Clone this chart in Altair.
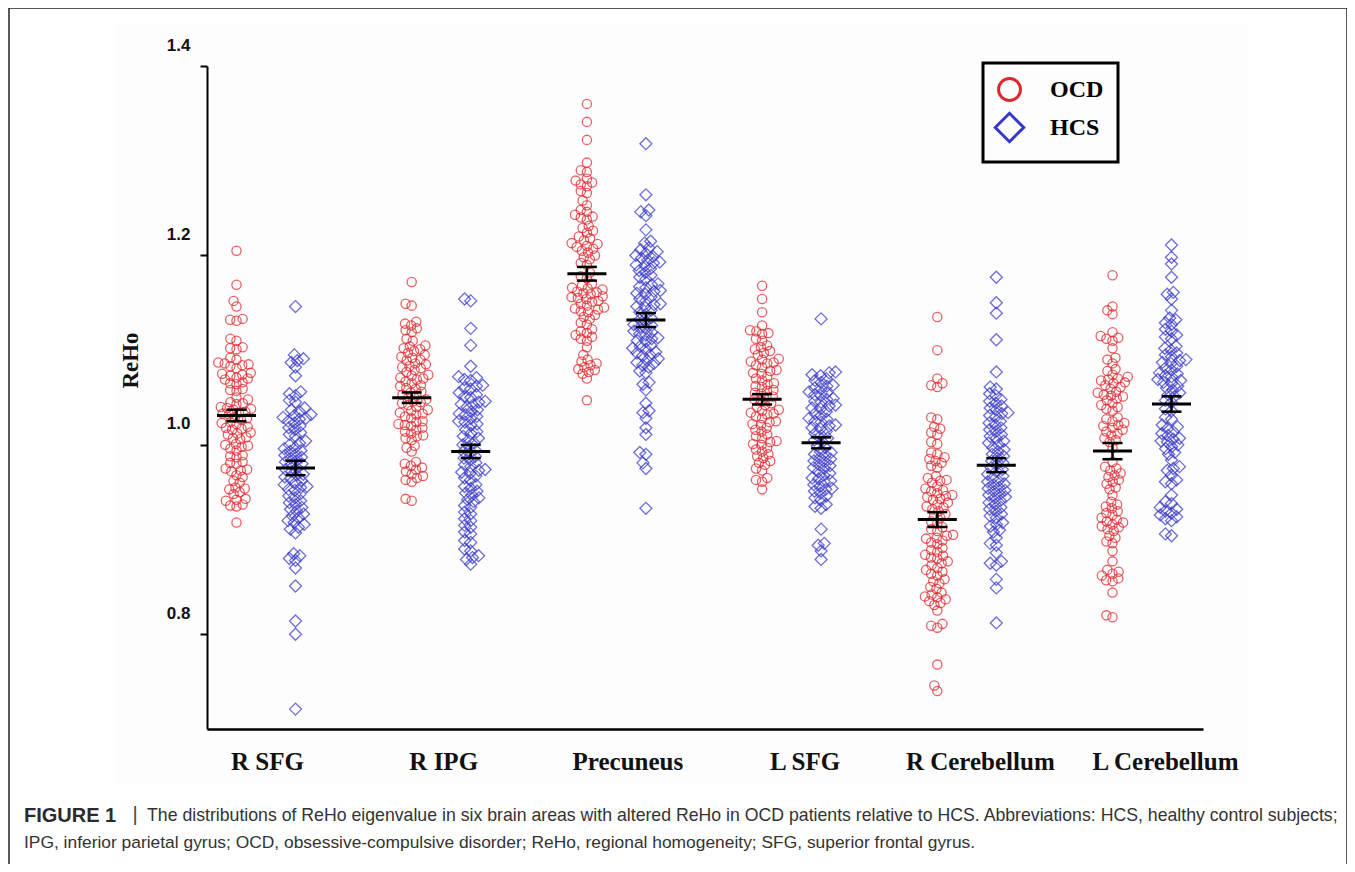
import json
import altair as alt
import pandas as pd

# ---------------- data ----------------
REGIONS = ["R SFG", "R IPG", "Precuneus", "L SFG", "R Cerebellum", "L Cerebellum"]
GROUPS = ["OCD", "HCS"]
Y_TICKS = [0.8, 1.0, 1.2, 1.4]

RSFG_OCD = [1.205, 1.169, 1.152, 1.146, 1.133, 1.131, 1.132, 1.112, 1.110, 1.103, 1.101, 1.102, 1.092, 1.090,
            1.087, 1.085, 1.086, 1.084, 1.083, 1.081, 1.076, 1.074, 1.075, 1.073, 1.071, 1.069, 1.070, 1.066,
            1.064, 1.065, 1.059, 1.057, 1.058, 1.050, 1.048, 1.045, 1.043, 1.044, 1.040, 1.038, 1.039, 1.037,
            1.035, 1.033, 1.034, 1.032, 1.029, 1.027, 1.028, 1.024, 1.022, 1.023, 1.019, 1.017, 1.018, 1.016,
            1.013, 1.011, 1.012, 1.008, 1.006, 1.007, 1.001, 0.999, 1.000, 0.998, 0.996, 0.994, 0.989, 0.987,
            0.988, 0.982, 0.980, 0.981, 0.975, 0.973, 0.974, 0.972, 0.968, 0.966, 0.962, 0.960, 0.955, 0.953,
            0.954, 0.950, 0.948, 0.943, 0.941, 0.942, 0.937, 0.935, 0.936, 0.918]
RSFG_HCS = [1.146, 1.095, 1.091, 1.089, 1.087, 1.082, 1.073, 1.056, 1.054, 1.052, 1.047, 1.045, 1.039, 1.037,
            1.035, 1.032, 1.031, 1.029, 1.028, 1.027, 1.025, 1.023, 1.020, 1.018, 1.016, 1.013, 1.011, 1.009,
            1.004, 1.002, 1.000, 0.997, 0.996, 0.994, 0.993, 0.990, 0.989, 0.987, 0.986, 0.983, 0.982, 0.980,
            0.979, 0.976, 0.974, 0.972, 0.969, 0.968, 0.966, 0.965, 0.962, 0.960, 0.958, 0.956, 0.955, 0.953,
            0.952, 0.948, 0.946, 0.944, 0.941, 0.939, 0.937, 0.934, 0.932, 0.930, 0.927, 0.925, 0.923, 0.920,
            0.918, 0.916, 0.913, 0.911, 0.907, 0.885, 0.883, 0.880, 0.878, 0.870, 0.851, 0.814, 0.800, 0.721]
RIPG_OCD = [1.172, 1.149, 1.147, 1.130, 1.128, 1.126, 1.123, 1.121, 1.119, 1.112, 1.110, 1.105, 1.104, 1.102,
            1.101, 1.099, 1.097, 1.095, 1.093, 1.092, 1.090, 1.089, 1.086, 1.085, 1.083, 1.082, 1.081, 1.079,
            1.077, 1.074, 1.073, 1.071, 1.070, 1.069, 1.067, 1.065, 1.063, 1.062, 1.060, 1.059, 1.056, 1.055,
            1.053, 1.052, 1.049, 1.048, 1.046, 1.045, 1.044, 1.042, 1.040, 1.037, 1.036, 1.034, 1.033, 1.032,
            1.030, 1.028, 1.025, 1.024, 1.022, 1.021, 1.020, 1.018, 1.016, 1.014, 1.012, 1.010, 1.009, 1.007,
            1.005, 0.999, 0.997, 0.993, 0.982, 0.980, 0.978, 0.976, 0.974, 0.972, 0.969, 0.967, 0.965, 0.963,
            0.961, 0.943, 0.941]
RIPG_HCS = [1.154, 1.152, 1.123, 1.105, 1.083, 1.072, 1.071, 1.069, 1.068, 1.063, 1.062, 1.060, 1.059, 1.055,
            1.053, 1.051, 1.050, 1.046, 1.045, 1.043, 1.042, 1.040, 1.037, 1.035, 1.033, 1.032, 1.030, 1.028,
            1.025, 1.024, 1.022, 1.021, 1.016, 1.014, 1.012, 1.009, 1.007, 1.005, 1.002, 1.000, 0.998, 0.995,
            0.993, 0.991, 0.988, 0.986, 0.984, 0.981, 0.979, 0.977, 0.974, 0.973, 0.971, 0.970, 0.967, 0.965,
            0.963, 0.958, 0.956, 0.954, 0.951, 0.949, 0.947, 0.944, 0.942, 0.940, 0.936, 0.934, 0.929, 0.927,
            0.922, 0.920, 0.915, 0.913, 0.908, 0.906, 0.899, 0.897, 0.890, 0.888, 0.883, 0.881, 0.879, 0.874]
PREC_OCD = [1.360, 1.341, 1.322, 1.298, 1.290, 1.288, 1.281, 1.279, 1.277, 1.275, 1.273, 1.268, 1.266, 1.258,
            1.253, 1.248, 1.246, 1.243, 1.241, 1.240, 1.238, 1.231, 1.229, 1.226, 1.224, 1.220, 1.218, 1.216,
            1.213, 1.212, 1.210, 1.209, 1.207, 1.205, 1.203, 1.200, 1.198, 1.196, 1.192, 1.190, 1.182, 1.178,
            1.176, 1.170, 1.168, 1.166, 1.165, 1.164, 1.162, 1.161, 1.160, 1.159, 1.157, 1.156, 1.155, 1.154,
            1.152, 1.151, 1.149, 1.147, 1.145, 1.144, 1.143, 1.141, 1.140, 1.137, 1.135, 1.133, 1.129, 1.127,
            1.122, 1.120, 1.118, 1.116, 1.114, 1.112, 1.110, 1.103, 1.095, 1.090, 1.088, 1.086, 1.084, 1.082,
            1.080, 1.079, 1.077, 1.075, 1.070, 1.047]
PREC_HCS = [1.318, 1.264, 1.248, 1.246, 1.242, 1.227, 1.215, 1.213, 1.208, 1.206, 1.204, 1.202, 1.200, 1.199,
            1.197, 1.195, 1.193, 1.192, 1.190, 1.189, 1.186, 1.184, 1.182, 1.179, 1.177, 1.175, 1.170, 1.169,
            1.167, 1.166, 1.163, 1.162, 1.160, 1.159, 1.156, 1.154, 1.152, 1.149, 1.148, 1.146, 1.145, 1.142,
            1.140, 1.138, 1.134, 1.132, 1.130, 1.127, 1.126, 1.124, 1.123, 1.120, 1.119, 1.117, 1.116, 1.113,
            1.112, 1.110, 1.109, 1.105, 1.104, 1.102, 1.101, 1.098, 1.097, 1.095, 1.094, 1.091, 1.089, 1.087,
            1.086, 1.084, 1.082, 1.078, 1.076, 1.066, 1.064, 1.058, 1.044, 1.036, 1.034, 1.028, 1.018, 1.011,
            0.992, 0.990, 0.981, 0.975, 0.933]
LSFG_OCD = [1.168, 1.154, 1.140, 1.126, 1.121, 1.120, 1.118, 1.117, 1.112, 1.110, 1.105, 1.103, 1.101, 1.099,
            1.097, 1.095, 1.091, 1.090, 1.088, 1.087, 1.086, 1.084, 1.082, 1.079, 1.078, 1.076, 1.075, 1.072,
            1.070, 1.068, 1.065, 1.064, 1.062, 1.061, 1.058, 1.057, 1.055, 1.054, 1.051, 1.050, 1.048, 1.047,
            1.044, 1.042, 1.040, 1.037, 1.036, 1.034, 1.033, 1.032, 1.030, 1.028, 1.025, 1.024, 1.022, 1.021,
            1.018, 1.016, 1.014, 1.011, 1.009, 1.007, 1.004, 1.003, 1.001, 1.000, 0.997, 0.995, 0.993, 0.990,
            0.988, 0.986, 0.983, 0.981, 0.979, 0.975, 0.973, 0.965, 0.963, 0.961, 0.953]
LSFG_HCS = [1.133, 1.077, 1.076, 1.074, 1.073, 1.070, 1.068, 1.066, 1.063, 1.062, 1.060, 1.059, 1.056, 1.055,
            1.053, 1.052, 1.049, 1.048, 1.046, 1.045, 1.042, 1.041, 1.039, 1.038, 1.035, 1.033, 1.031, 1.028,
            1.027, 1.025, 1.024, 1.021, 1.020, 1.018, 1.017, 1.014, 1.012, 1.010, 1.007, 1.005, 1.003, 0.999,
            0.997, 0.993, 0.992, 0.990, 0.989, 0.986, 0.985, 0.983, 0.982, 0.979, 0.978, 0.976, 0.975, 0.972,
            0.970, 0.968, 0.965, 0.964, 0.962, 0.961, 0.958, 0.956, 0.954, 0.953, 0.951, 0.949, 0.946, 0.944,
            0.942, 0.937, 0.935, 0.933, 0.911, 0.896, 0.894, 0.888, 0.879]
RCER_OCD = [1.135, 1.100, 1.070, 1.065, 1.063, 1.061, 1.029, 1.027, 1.019, 1.017, 1.013, 1.011, 1.003, 1.001,
            0.992, 0.990, 0.987, 0.985, 0.983, 0.981, 0.978, 0.976, 0.967, 0.965, 0.963, 0.962, 0.960, 0.956,
            0.954, 0.952, 0.951, 0.949, 0.947, 0.946, 0.945, 0.943, 0.942, 0.939, 0.937, 0.935, 0.934, 0.932,
            0.930, 0.927, 0.925, 0.923, 0.919, 0.917, 0.913, 0.911, 0.909, 0.905, 0.904, 0.902, 0.901, 0.899,
            0.897, 0.895, 0.891, 0.889, 0.887, 0.884, 0.883, 0.881, 0.880, 0.877, 0.875, 0.873, 0.870, 0.868,
            0.866, 0.864, 0.862, 0.858, 0.856, 0.854, 0.850, 0.848, 0.844, 0.842, 0.840, 0.839, 0.837, 0.835,
            0.833, 0.831, 0.825, 0.811, 0.809, 0.807, 0.768, 0.746, 0.740]
RCER_HCS = [1.177, 1.150, 1.139, 1.111, 1.077, 1.061, 1.059, 1.054, 1.052, 1.048, 1.046, 1.044, 1.041, 1.039,
            1.037, 1.034, 1.033, 1.031, 1.030, 1.025, 1.023, 1.021, 1.018, 1.016, 1.014, 1.011, 1.009, 1.007,
            1.004, 1.002, 1.000, 0.997, 0.995, 0.993, 0.990, 0.988, 0.986, 0.983, 0.981, 0.979, 0.976, 0.974,
            0.972, 0.969, 0.967, 0.965, 0.962, 0.961, 0.959, 0.958, 0.955, 0.954, 0.952, 0.951, 0.948, 0.947,
            0.945, 0.944, 0.941, 0.939, 0.937, 0.934, 0.932, 0.930, 0.927, 0.925, 0.923, 0.918, 0.916, 0.914,
            0.910, 0.908, 0.902, 0.896, 0.894, 0.886, 0.877, 0.875, 0.873, 0.858, 0.849, 0.812]
LCER_OCD = [1.179, 1.146, 1.142, 1.138, 1.119, 1.115, 1.113, 1.112, 1.110, 1.102, 1.092, 1.090, 1.086, 1.080,
            1.078, 1.074, 1.072, 1.070, 1.069, 1.068, 1.066, 1.065, 1.063, 1.061, 1.059, 1.056, 1.055, 1.053,
            1.052, 1.051, 1.049, 1.047, 1.044, 1.042, 1.040, 1.038, 1.036, 1.029, 1.027, 1.025, 1.023, 1.021,
            1.020, 1.018, 1.016, 1.014, 1.012, 1.010, 1.007, 1.005, 1.003, 0.997, 0.982, 0.977, 0.975, 0.973,
            0.970, 0.968, 0.966, 0.963, 0.961, 0.959, 0.955, 0.953, 0.947, 0.940, 0.937, 0.935, 0.933, 0.930,
            0.928, 0.926, 0.923, 0.921, 0.919, 0.918, 0.916, 0.914, 0.913, 0.911, 0.909, 0.904, 0.902, 0.898,
            0.896, 0.888, 0.877, 0.868, 0.866, 0.864, 0.862, 0.859, 0.857, 0.856, 0.844, 0.820, 0.818]
LCER_HCS = [1.211, 1.198, 1.191, 1.177, 1.161, 1.159, 1.154, 1.142, 1.134, 1.132, 1.129, 1.127, 1.122, 1.120,
            1.116, 1.114, 1.112, 1.104, 1.102, 1.100, 1.097, 1.095, 1.093, 1.090, 1.089, 1.087, 1.086, 1.083,
            1.081, 1.079, 1.076, 1.075, 1.073, 1.072, 1.069, 1.068, 1.066, 1.065, 1.062, 1.060, 1.058, 1.055,
            1.053, 1.051, 1.047, 1.045, 1.038, 1.036, 1.029, 1.027, 1.021, 1.019, 1.017, 1.014, 1.012, 1.010,
            1.007, 1.006, 1.004, 1.003, 1.000, 0.998, 0.996, 0.992, 0.990, 0.984, 0.977, 0.975, 0.973, 0.968,
            0.963, 0.961, 0.959, 0.947, 0.940, 0.938, 0.934, 0.932, 0.930, 0.928, 0.926, 0.924, 0.922, 0.920,
            0.906, 0.904]

SERIES = [
    ("R SFG", "OCD", RSFG_OCD), ("R SFG", "HCS", RSFG_HCS),
    ("R IPG", "OCD", RIPG_OCD), ("R IPG", "HCS", RIPG_HCS),
    ("Precuneus", "OCD", PREC_OCD), ("Precuneus", "HCS", PREC_HCS),
    ("L SFG", "OCD", LSFG_OCD), ("L SFG", "HCS", LSFG_HCS),
    ("R Cerebellum", "OCD", RCER_OCD), ("R Cerebellum", "HCS", RCER_HCS),
    ("L Cerebellum", "OCD", LCER_OCD), ("L Cerebellum", "HCS", LCER_HCS),
]

CAPTION_1 = ("The distributions of ReHo eigenvalue in six brain areas with altered ReHo in OCD patients "
             "relative to HCS. Abbreviations: HCS, healthy control subjects;")
CAPTION_2 = ("IPG, inferior parietal gyrus; OCD, obsessive-compulsive disorder; ReHo, regional homogeneity; "
             "SFG, superior frontal gyrus.")

# ---------------- layout ----------------
W, H = 996, 663
Y_DOMAIN = [0.7, 1.4]
PX_PER_REGION = 175.2
X_DOMAIN = [-59 / PX_PER_REGION, (W - 59) / PX_PER_REGION]
PX_PER_UNIT_Y = H / (Y_DOMAIN[1] - Y_DOMAIN[0])
GROUP_SHIFT = 29.5 / PX_PER_REGION
LABEL_NUDGE_PX = [1, 2, 11, 13, 13, 23]
RED, BLUE = "#e0262c", "#3838c8"
DIAMOND = "M-1.3,0L0,-1.3L1.3,0L0,1.3Z"


def swarm(vals, d=6.4):
    """Beeswarm offsets (pixels) so that markers do not pile up."""
    order = sorted(range(len(vals)), key=lambda i: vals[i])
    placed, offs = [], [0.0] * len(vals)
    for i in order:
        y = vals[i] * PX_PER_UNIT_Y
        near = [(py, px) for py, px in placed if abs(py - y) < d]
        cands = [0.0]
        for py, px in near:
            dx = (d * d - (py - y) ** 2) ** 0.5
            cands += [px - dx, px + dx]
        cands.sort(key=lambda c: (abs(c), c))
        for c in cands:
            if all((c - px) ** 2 + (y - py) ** 2 >= d * d - 1e-6 for py, px in near):
                offs[i] = c
                break
        placed.append((y, offs[i]))
    return offs


rows = []
for reg, grp, vals in SERIES:
    ri = REGIONS.index(reg)
    for v, o in zip(vals, swarm(vals)):
        rows.append({"region": reg, "ri": ri, "group": grp, "value": v,
                     "dodge": o / PX_PER_REGION})
df = pd.DataFrame(rows)

xs = alt.Scale(domain=X_DOMAIN, nice=False, zero=False)
ys = alt.Scale(domain=Y_DOMAIN, nice=False, zero=False)

label_vals = [i + LABEL_NUDGE_PX[i] / PX_PER_REGION for i in range(len(REGIONS))]
x_axis = alt.Axis(values=label_vals, labelExpr=f"{json.dumps(REGIONS)}[round(datum.value)]",
                  ticks=False, grid=False, title=None, domainColor="black", domainWidth=2.5,
                  labelFont="Liberation Serif", labelFontWeight="bold", labelFontSize=25,
                  labelColor="#111111", labelPadding=20, labelOverlap=False, labelFlush=False, zindex=1)
y_axis = alt.Axis(values=Y_TICKS, format=".1f", grid=False, tickSize=7, tickWidth=2, tickColor="black",
                  domainColor="black", domainWidth=2, labelFont="Liberation Sans", labelFontWeight="bold",
                  labelFontSize=17, labelColor="#111111", labelOffset=-21, labelPadding=10,
                  title="ReHo", titleFont="Liberation Serif", titleFontWeight="bold", titleFontSize=23,
                  titleColor="#111111", titleX=-77, titleY=294, titleAngle=270, titleAlign="center",
                  titleBaseline="middle", zindex=1)

legend = alt.Legend(title=None, orient="none", legendX=776, legendY=-3, padding=14,
                    symbolSize=480, symbolStrokeWidth=3, symbolOpacity=1,
                    labelFont="Liberation Serif", labelFontWeight="bold", labelFontSize=24,
                    labelColor="black", labelOffset=28, rowPadding=0, strokeColor="black")

one = pd.DataFrame({"k": [0]})

background = alt.Chart(one).mark_rect(fill="#fdfdfd").encode(
    x=alt.value(115 - 207), x2=alt.value(1248 - 207), y=alt.value(23 - 66), y2=alt.value(785 - 66))

points = alt.Chart(df).mark_point(filled=False, strokeWidth=1.3, opacity=0.72).transform_calculate(
    xpos=f"datum.ri + (datum.group == 'OCD' ? {-GROUP_SHIFT} : {GROUP_SHIFT}) + datum.dodge",
).encode(
    x=alt.X("xpos:Q", scale=xs, axis=x_axis),
    y=alt.Y("value:Q", scale=ys, axis=y_axis),
    color=alt.Color("group:N", scale=alt.Scale(domain=GROUPS, range=[RED, BLUE]), legend=legend),
    shape=alt.Shape("group:N", scale=alt.Scale(domain=GROUPS, range=["circle", DIAMOND]), legend=legend),
)

stats = alt.Chart(df).transform_aggregate(
    mean="mean(value)", se="stderr(value)", groupby=["ri", "group"]
).transform_calculate(
    xc=f"datum.ri + (datum.group == 'OCD' ? {-GROUP_SHIFT} : {GROUP_SHIFT})",
).transform_calculate(
    lo="datum.mean - datum.se", hi="datum.mean + datum.se",
    xm1=f"datum.xc - {19.5 / PX_PER_REGION}", xm2=f"datum.xc + {19.5 / PX_PER_REGION}",
    xc1=f"datum.xc - {10 / PX_PER_REGION}", xc2=f"datum.xc + {10 / PX_PER_REGION}",
)
mean_line = stats.mark_rule(color="black", strokeWidth=3).encode(
    x=alt.X("xm1:Q", scale=xs, axis=x_axis), x2="xm2:Q", y=alt.Y("mean:Q", scale=ys, axis=y_axis))
se_line = stats.mark_rule(color="black", strokeWidth=2.5).encode(
    x=alt.X("xc:Q", scale=xs, axis=x_axis), y=alt.Y("lo:Q", scale=ys, axis=y_axis), y2="hi:Q")
cap_lo = stats.mark_rule(color="black", strokeWidth=2.5).encode(
    x=alt.X("xc1:Q", scale=xs, axis=x_axis), x2="xc2:Q", y=alt.Y("lo:Q", scale=ys, axis=y_axis))
cap_hi = stats.mark_rule(color="black", strokeWidth=2.5).encode(
    x=alt.X("xc1:Q", scale=xs, axis=x_axis), x2="xc2:Q", y=alt.Y("hi:Q", scale=ys, axis=y_axis))

border = alt.Chart(one).mark_rect(fill=None, stroke="#222222", strokeWidth=1.5).encode(
    x=alt.value(9 - 207), x2=alt.value(1347 - 207), y=alt.value(8 - 66), y2=alt.value(866 - 66))

cap_font = "Liberation Sans"
fig_label = alt.Chart(one).mark_text(align="left", baseline="middle", font=cap_font, fontSize=20,
                                     fontWeight="bold", color="#2b2b2b").encode(
    x=alt.value(24 - 207), y=alt.value(816 - 66), text=alt.value("FIGURE 1"))
bar_sep = alt.Chart(one).mark_text(align="center", baseline="middle", font=cap_font, fontSize=20,
                                   color="#444444").encode(
    x=alt.value(135 - 207), y=alt.value(815 - 66), text=alt.value("|"))
cap1 = alt.Chart(one).mark_text(align="left", baseline="middle", font=cap_font, fontSize=17.7,
                                color="#333333").encode(
    x=alt.value(147 - 207), y=alt.value(816 - 66), text=alt.value(CAPTION_1))
cap2 = alt.Chart(one).mark_text(align="left", baseline="middle", font=cap_font, fontSize=17.4,
                                color="#333333").encode(
    x=alt.value(24 - 207), y=alt.value(843 - 66), text=alt.value(CAPTION_2))

chart = alt.layer(
    background, points, se_line, mean_line, cap_lo, cap_hi, border, fig_label, bar_sep, cap1, cap2
).properties(
    width=W, height=H,
    autosize=alt.AutoSizeParams(type="none"),
    padding={"left": 199, "top": 58, "right": 1339 - 199 - W, "bottom": 856 - 58 - H},
    background="white",
).configure_view(stroke=None).configure_legend(strokeWidth=3).configure_point(size=85)

chart.save("out.html", embed_options={"renderer": "svg", "actions": False})
